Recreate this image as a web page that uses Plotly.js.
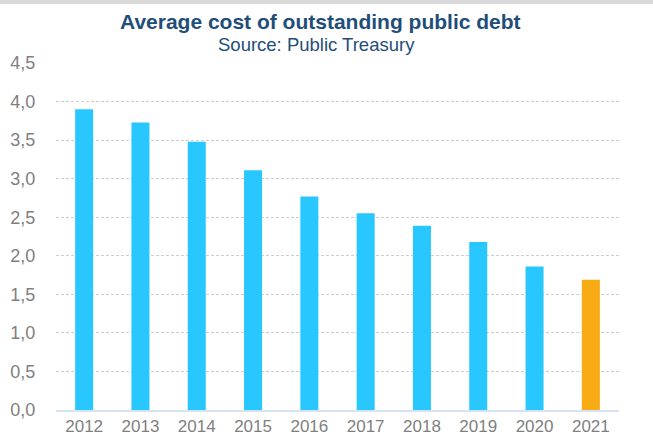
<!DOCTYPE html>
<html>
<head>
<meta charset="utf-8">
<script src="https://cdn.plot.ly/plotly-3.0.1.min.js"></script>
<style>
html,body{margin:0;padding:0;background:#fff;}
#chart{width:653px;height:439px;position:relative;}
#band{position:absolute;left:0;top:0;width:653px;height:4px;background:#d9d9d9;z-index:10;}
</style>
</head>
<body>
<div id="chart"><div id="band"></div></div>
<script>
var years = ['2012','2013','2014','2015','2016','2017','2018','2019','2020','2021'];
var cost = [3.90, 3.73, 3.48, 3.11, 2.77, 2.55, 2.39, 2.18, 1.86, 1.69];
var barColors = ['#29C7FF','#29C7FF','#29C7FF','#29C7FF','#29C7FF','#29C7FF','#29C7FF','#29C7FF','#29C7FF','#F8AB15'];
var titleText = 'Average cost of outstanding public debt';
var subtitleText = 'Source: Public Treasury';

var W = 653, H = 439, L = 56, R = 34, T = 63, B = 29;
var pw = W - L - R, ph = H - T - B;
function px2x(x){ return (x - L) / pw; }
function py2y(y){ return (H - B - y) / ph; }

var data = [{
  type: 'bar',
  x: years,
  y: cost,
  marker: {color: barColors, line: {width: 0}},
  hoverinfo: 'none'
}];

var layout = {
  width: W, height: H,
  margin: {l: L, r: R, t: T, b: B, pad: 0},
  paper_bgcolor: '#ffffff',
  plot_bgcolor: '#ffffff',
  separators: ', ',
  bargap: 0.68,
  showlegend: false,
  font: {family: '"Liberation Sans", Arial, sans-serif', color: '#7f7f7f'},
  xaxis: {
    type: 'category',
    showgrid: false,
    showline: true,
    linecolor: '#d6e3f4',
    linewidth: 2,
    ticks: '',
    tickfont: {size: 17, color: '#7f7f7f'}
  },
  yaxis: {
    range: [0, 4.5],
    dtick: 0.5,
    tick0: 0,
    tickformat: '.1f',
    showgrid: true,
    gridcolor: '#cdcdcd',
    griddash: '3px,2px',
    gridwidth: 1,
    zeroline: false,
    showline: false,
    ticks: 'outside',
    ticklen: 16,
    tickcolor: 'rgba(0,0,0,0)',
    tickfont: {size: 18, color: '#7f7f7f'}
  },
  annotations: [
    {text: '<b>' + titleText + '</b>', xref: 'paper', yref: 'paper',
     x: px2x(320.5), y: py2y(22), xanchor: 'center', yanchor: 'middle', showarrow: false,
     font: {size: 21, color: '#1F4E79', family: '"Liberation Sans", Arial, sans-serif'}},
    {text: subtitleText, xref: 'paper', yref: 'paper',
     x: px2x(316.5), y: py2y(45), xanchor: 'center', yanchor: 'middle', showarrow: false,
     font: {size: 18.5, color: '#1F4E79', family: '"Liberation Sans", Arial, sans-serif'}}
  ]
};

Plotly.newPlot('chart', data, layout, {displayModeBar: false, staticPlot: true});
</script>
</body>
</html>
